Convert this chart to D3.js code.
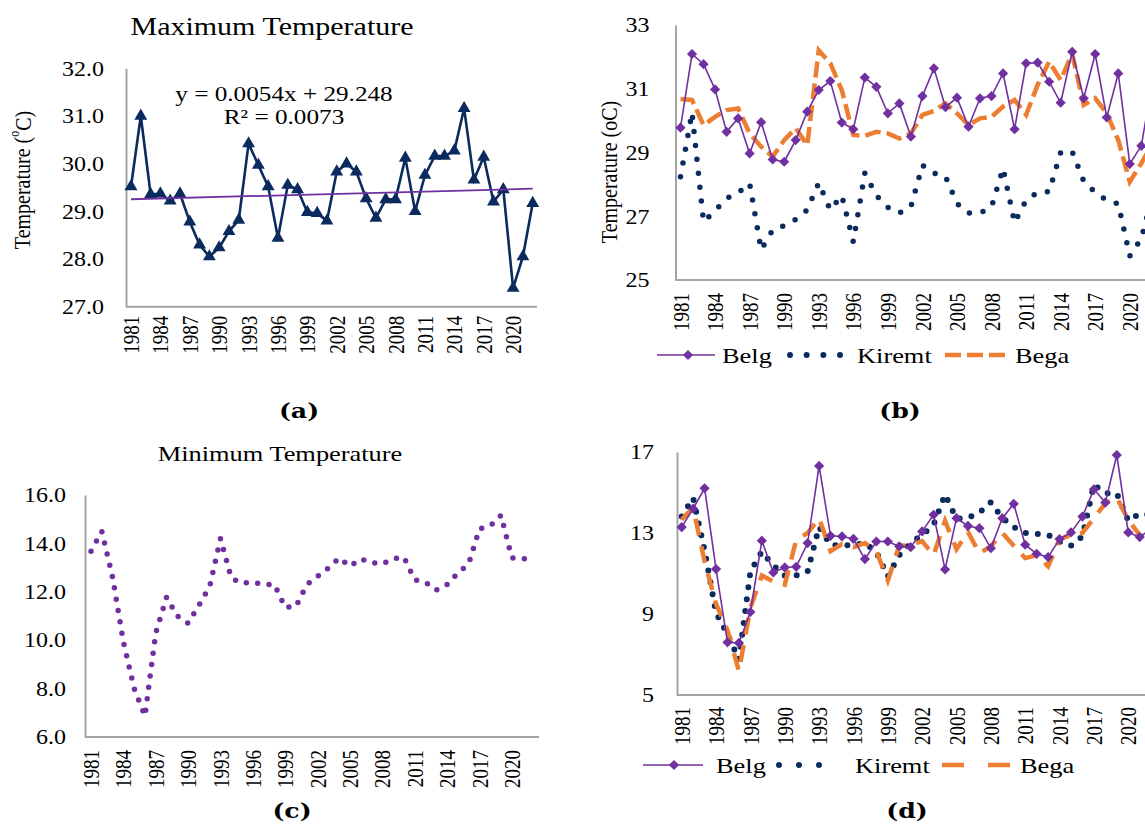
<!DOCTYPE html>
<html>
<head>
<meta charset="utf-8">
<script src="https://cdn.jsdelivr.net/npm/d3@7"></script>
<style>
  body { margin: 0; background: #fff; }
  svg { display: block; }
</style>
</head>
<body>
<div id="chart"></div>
<script>
// Categories
var years = [1981, 1982, 1983, 1984, 1985, 1986, 1987, 1988, 1989, 1990,
             1991, 1992, 1993, 1994, 1995, 1996, 1997, 1998, 1999, 2000,
             2001, 2002, 2003, 2004, 2005, 2006, 2007, 2008, 2009, 2010,
             2011, 2012, 2013, 2014, 2015, 2016, 2017, 2018, 2019, 2020,
             2021, 2022];
var labelYears = [1981, 1984, 1987, 1990, 1993, 1996, 1999, 2002, 2005, 2008, 2011, 2014, 2017, 2020];

// (a) annual maximum temperature
var maxTemp = [29.52, 31.00, 29.36, 29.37, 29.22, 29.37, 28.78, 28.30, 28.05, 28.24,
               28.58, 28.82, 30.42, 29.97, 29.52, 28.44, 29.55, 29.46, 28.98, 28.96,
               28.80, 29.83, 30.00, 29.83, 29.27, 28.86, 29.25, 29.25, 30.12, 29.00,
               29.76, 30.16, 30.16, 30.27, 31.16, 29.66, 30.14, 29.20, 29.46, 27.39,
               28.05, 29.17];
var trendSlope = 0.0054;
var trendIntercept = 29.248;

// (b) seasonal maximum temperature
var maxBelg = [29.78, 32.09, 31.77, 30.98, 29.65, 30.07, 28.97, 29.95, 28.78, 28.71,
               29.39, 30.28, 30.96, 31.24, 29.94, 29.73, 31.35, 31.06, 30.23, 30.54,
               29.50, 30.77, 31.64, 30.42, 30.72, 29.81, 30.70, 30.77, 31.48, 29.73,
               31.80, 31.82, 31.22, 30.56, 32.16, 30.70, 32.09, 30.10, 31.48, 28.64,
               29.21, 31.30];
var maxKiremt = [28.24, 30.25, 26.83, 27.17, 27.56, 27.74, 28.03, 25.95, 26.57, 26.70,
                 26.90, 27.20, 28.05, 27.20, 27.65, 26.20, 28.35, 27.65, 27.28, 27.10,
                 27.30, 28.60, 28.35, 28.25, 27.40, 27.10, 27.10, 27.30, 28.50, 26.80,
                 27.50, 27.75, 27.77, 29.00, 29.03, 28.10, 27.75, 27.50, 27.39, 25.75,
                 26.30, 27.70];
var maxBega = [30.68, 30.65, 29.86, 30.12, 30.33, 30.38, 29.60, 29.18, 28.87, 29.39,
               29.76, 29.23, 32.20, 31.80, 30.96, 29.55, 29.52, 29.65, 29.60, 29.44,
               29.60, 30.18, 30.30, 30.54, 30.23, 29.86, 30.07, 30.12, 30.44, 30.65,
               30.18, 31.12, 31.85, 31.27, 32.10, 30.49, 30.70, 30.23, 29.39, 28.08,
               28.66, 29.30];

// (c) annual minimum temperature
var minTemp = [13.68, 14.50, 12.60, 9.94, 8.00, 6.87, 10.30, 11.78, 11.00, 10.70,
               11.44, 12.22, 14.20, 12.57, 12.35, 12.40, 12.30, 12.30, 11.35, 11.40,
               12.30, 12.64, 12.98, 13.40, 13.05, 13.36, 13.20, 13.15, 13.37, 13.43,
               12.50, 12.39, 12.07, 12.30, 12.78, 13.15, 14.60, 14.72, 15.16, 13.40,
               13.35, 13.42];

// (d) seasonal minimum temperature
var minBelg = [13.29, 14.20, 15.21, 11.22, 7.60, 7.57, 9.10, 12.62, 11.05, 11.30,
               11.33, 12.50, 16.31, 12.86, 12.83, 12.71, 11.71, 12.58, 12.58, 12.34,
               12.30, 13.08, 13.90, 11.20, 13.73, 13.35, 13.24, 12.25, 13.73, 14.44,
               12.42, 11.97, 11.81, 12.70, 13.03, 13.81, 15.16, 14.50, 16.85, 13.03,
               12.80, 13.20];
var minKiremt = [13.81, 14.73, 12.15, 9.05, 8.00, 6.75, 11.10, 12.08, 11.40, 10.90,
                 10.90, 11.10, 13.30, 12.40, 12.40, 12.40, 12.50, 12.07, 10.85, 11.90,
                 12.50, 12.90, 13.40, 14.90, 13.70, 13.75, 14.00, 14.52, 13.74, 13.29,
                 13.00, 12.95, 12.91, 12.58, 12.37, 12.83, 15.38, 14.96, 14.96, 13.60,
                 13.95, 13.90];
var minBega = [13.66, 14.25, 11.60, 9.50, 8.20, 6.18, 9.30, 10.90, 10.60, 10.45,
               12.65, 13.00, 13.73, 12.10, 12.45, 12.30, 12.50, 12.10, 10.65, 12.37,
               12.40, 12.60, 11.90, 13.60, 12.20, 13.05, 12.00, 12.35, 13.00, 12.37,
               11.76, 11.90, 11.35, 12.70, 12.90, 13.00, 13.73, 14.47, 14.75, 13.65,
               12.90, 12.60];

// Axis ticks
var maxTicks = [27, 28, 29, 30, 31, 32];
var maxSeasonTicks = [25, 27, 29, 31, 33];
var minTicks = [6, 8, 10, 12, 14, 16];
var minSeasonTicks = [5, 9, 13, 17];

// Styles
var navy = "#0b2a5e";
var purple = "#7030a0";
var orange = "#ed7d31";
var axisGray = "#a3a3a3";
var serif = "'Liberation Serif', 'Times New Roman', serif";
var SX = 1.2; // text in the figure is slightly stretched horizontally

var svg = d3.select("#chart")
  .append("svg")
  .attr("width", 1145)
  .attr("height", 826);

svg.append("rect")
  .attr("width", 1145)
  .attr("height", 826)
  .attr("fill", "#fff");

// Place a (horizontally stretched) text label
function addText(g, x, y, str, size, opts) {
  opts = opts || {};
  var t = g.append("text")
    .attr("transform", `translate(${x},${y}) scale(${SX},1)` + (opts.rotate ? ` rotate(${opts.rotate})` : ""))
    .attr("font-family", opts.family || serif)
    .attr("font-size", size)
    .attr("text-anchor", opts.anchor || "middle")
    .attr("fill", "#000")
    .text(str);
  if (opts.bold) t.attr("font-weight", "bold");
  if (opts.baseline) t.attr("dominant-baseline", opts.baseline);
  return t;
}

// Draw y axis, x axis line and rotated year labels
function drawAxes(g, x, y, p) {
  var yAxis = g.append("g")
    .attr("transform", `translate(${p.axisX},0)`)
    .call(d3.axisLeft(y).tickValues(p.ticks).tickFormat(p.fmt).tickSize(0).tickSizeOuter(0));
  yAxis.select(".domain").attr("stroke", axisGray).attr("stroke-width", 2);
  yAxis.selectAll("text")
    .attr("x", null)
    .attr("dy", null)
    .attr("font-family", serif)
    .attr("font-size", p.tickFont)
    .attr("dominant-baseline", "central")
    .attr("transform", `translate(${-p.tickGap},0) scale(${SX},1)`);

  var baseY = y.range()[0];
  g.append("line")
    .attr("x1", p.axisX)
    .attr("x2", p.axisEnd)
    .attr("y1", baseY)
    .attr("y2", baseY)
    .attr("stroke", axisGray)
    .attr("stroke-width", 2);

  var xAxis = g.append("g")
    .attr("transform", `translate(0,${baseY})`)
    .call(d3.axisBottom(x).tickValues(labelYears).tickFormat(d3.format("d")).tickSize(0));
  xAxis.select(".domain").remove();
  xAxis.selectAll("text")
    .attr("y", null)
    .attr("dy", null)
    .attr("text-anchor", "end")
    .attr("dominant-baseline", "central")
    .attr("font-family", serif)
    .attr("font-size", p.yearFont)
    .attr("transform", `translate(0,${p.yearGap}) scale(${SX},1) rotate(-90)`);
}

function seriesLine(x, y) {
  return d3.line()
    .x((d, i) => x(years[i]))
    .y(d => y(d));
}

var diamond = d3.symbol(d3.symbolSquare, 52);
var triangle = d3.symbol(d3.symbolTriangle, 72);

// Belg / Kiremt / Bega set used by (b) and (d)
function drawSeasons(g, x, y, belg, kiremt, bega, st) {
  var line = seriesLine(x, y);
  g.append("path").datum(kiremt)
    .attr("d", line)
    .attr("fill", "none")
    .attr("stroke", navy)
    .attr("stroke-width", st.dotSize)
    .attr("stroke-linecap", "round")
    .attr("stroke-dasharray", `0 ${st.dotGap}`);
  g.append("path").datum(bega)
    .attr("d", line)
    .attr("fill", "none")
    .attr("stroke", orange)
    .attr("stroke-width", 4.5)
    .attr("stroke-dasharray", st.dash);
  g.append("path").datum(belg)
    .attr("d", line)
    .attr("fill", "none")
    .attr("stroke", purple)
    .attr("stroke-width", 1.6);
  g.selectAll(".belgMarker")
    .data(belg)
    .enter()
    .append("path")
    .classed("belgMarker", true)
    .attr("d", diamond)
    .attr("fill", purple)
    .attr("transform", (d, i) => `translate(${x(years[i])},${y(d)}) rotate(45)`);
}

function drawLegend(g, ly, L) {
  g.append("line")
    .attr("x1", L.belg[0]).attr("x2", L.belg[1])
    .attr("y1", ly).attr("y2", ly)
    .attr("stroke", purple).attr("stroke-width", 1.6);
  g.append("path")
    .attr("d", diamond)
    .attr("fill", purple)
    .attr("transform", `translate(${L.belg[2]},${ly}) rotate(45)`);
  addText(g, L.belg[3], ly, "Belg", 22, { anchor: "start", baseline: "central" });

  g.append("line")
    .attr("x1", L.kiremt[0]).attr("x2", L.kiremt[1])
    .attr("y1", ly).attr("y2", ly)
    .attr("stroke", navy).attr("stroke-width", L.dotSize)
    .attr("stroke-linecap", "round")
    .attr("stroke-dasharray", `0 ${(L.kiremt[1] - L.kiremt[0]) / 3}`);
  addText(g, L.kiremt[2], ly, "Kiremt", 22, { anchor: "start", baseline: "central" });

  g.append("line")
    .attr("x1", L.bega[0]).attr("x2", L.bega[1])
    .attr("y1", ly).attr("y2", ly)
    .attr("stroke", orange).attr("stroke-width", 4.5)
    .attr("stroke-dasharray", L.begaDash);
  addText(g, L.bega[2], ly, "Bega", 22, { anchor: "start", baseline: "central" });
}

// ###################################
// (a) Maximum Temperature
// ###################################
var gA = svg.append("g");
var xA = d3.scaleLinear().domain([1981, 2022]).range([131, 532.7]);
var yA = d3.scaleLinear().domain([27, 32]).range([306.7, 68.3]);

drawAxes(gA, xA, yA, {
  axisX: 126, axisEnd: 537, ticks: maxTicks, fmt: d3.format(".1f"),
  tickFont: 20, tickGap: 22, yearFont: 19, yearGap: 9
});

gA.append("path").datum(maxTemp)
  .attr("d", seriesLine(xA, yA))
  .attr("fill", "none")
  .attr("stroke", navy)
  .attr("stroke-width", 2.6);

gA.selectAll(".maxMarker")
  .data(maxTemp)
  .enter()
  .append("path")
  .classed("maxMarker", true)
  .attr("d", triangle)
  .attr("fill", navy)
  .attr("transform", (d, i) => `translate(${xA(years[i])},${yA(d)})`);

// Linear trend line
var trend = [1, years.length].map(k => ({ yr: years[k - 1], v: trendSlope * k + trendIntercept }));
gA.append("line")
  .attr("x1", xA(trend[0].yr)).attr("y1", yA(trend[0].v))
  .attr("x2", xA(trend[1].yr)).attr("y2", yA(trend[1].v))
  .attr("stroke", purple)
  .attr("stroke-width", 1.8);

addText(gA, 272, 35, "Maximum Temperature", 25);
addText(gA, 284, 101, "y = 0.0054x + 29.248", 21);
addText(gA, 284, 124, "R² = 0.0073", 21);
var yTitleA = addText(gA, 22, 180, "Temperature  (", 20, { rotate: -90, baseline: "central" });
yTitleA.append("tspan").attr("font-size", 12).attr("dy", -7).text("o");
yTitleA.append("tspan").attr("dy", 7).text("C)");
addText(gA, 299, 418, "(a)", 21, { bold: true, family: "'DejaVu Serif', serif" });

// ###################################
// (b) Seasonal maximum temperature
// ###################################
var gB = svg.append("g");
var xB = d3.scaleLinear().domain([1981, 2022]).range([680.5, 680.5 + 41 * 11.52]);
var yB = d3.scaleLinear().domain([25, 33]).range([280, 25]);

drawAxes(gB, xB, yB, {
  axisX: 675.5, axisEnd: 1160, ticks: maxSeasonTicks, fmt: d3.format("d"),
  tickFont: 20, tickGap: 26, yearFont: 19, yearGap: 13
});
drawSeasons(gB, xB, yB, maxBelg, maxKiremt, maxBega, { dotSize: 5.5, dotGap: 14, dash: "16 6" });
drawLegend(gB, 355, {
  belg: [657, 715, 688, 722], kiremt: [790, 840, 857], bega: [945, 1005, 1015],
  dotSize: 6, begaDash: "16 6"
});
addText(gB, 609, 172, "Temperature (oC)", 20, { rotate: -90, baseline: "central" });
addText(gB, 900, 418, "(b)", 21, { bold: true, family: "'DejaVu Serif', serif" });

// ###################################
// (c) Minimum Temperature
// ###################################
var gC = svg.append("g");
var xC = d3.scaleLinear().domain([1981, 2022]).range([91, 91 + 41 * 10.79]);
var yC = d3.scaleLinear().domain([6, 16]).range([737, 495]);

drawAxes(gC, xC, yC, {
  axisX: 85, axisEnd: 539, ticks: minTicks, fmt: d3.format(".1f"),
  tickFont: 20, tickGap: 19, yearFont: 19, yearGap: 13
});

gC.append("path").datum(minTemp)
  .attr("d", seriesLine(xC, yC))
  .attr("fill", "none")
  .attr("stroke", purple)
  .attr("stroke-width", 5.5)
  .attr("stroke-linecap", "round")
  .attr("stroke-dasharray", "0 11.5");

addText(gC, 280, 461, "Minimum Temperature", 22);
addText(gC, 292, 818, "(c)", 21, { bold: true, family: "'DejaVu Serif', serif" });

// ###################################
// (d) Seasonal minimum temperature
// ###################################
var gD = svg.append("g");
var xD = d3.scaleLinear().domain([1981, 2022]).range([681.7, 681.7 + 41 * 11.45]);
var yD = d3.scaleLinear().domain([5, 17]).range([695, 452]);

drawAxes(gD, xD, yD, {
  axisX: 677, axisEnd: 1160, ticks: minSeasonTicks, fmt: d3.format("d"),
  tickFont: 20, tickGap: 23, yearFont: 19, yearGap: 12
});
drawSeasons(gD, xD, yD, minBelg, minKiremt, minBega, { dotSize: 6, dotGap: 12, dash: "17 11" });
drawLegend(gD, 765, {
  belg: [643, 703, 674, 716], kiremt: [779, 839, 855], bega: [942, 1010, 1020],
  dotSize: 6, begaDash: "22 24"
});
addText(gD, 907, 818, "(d)", 21, { bold: true, family: "'DejaVu Serif', serif" });
</script>
</body>
</html>
